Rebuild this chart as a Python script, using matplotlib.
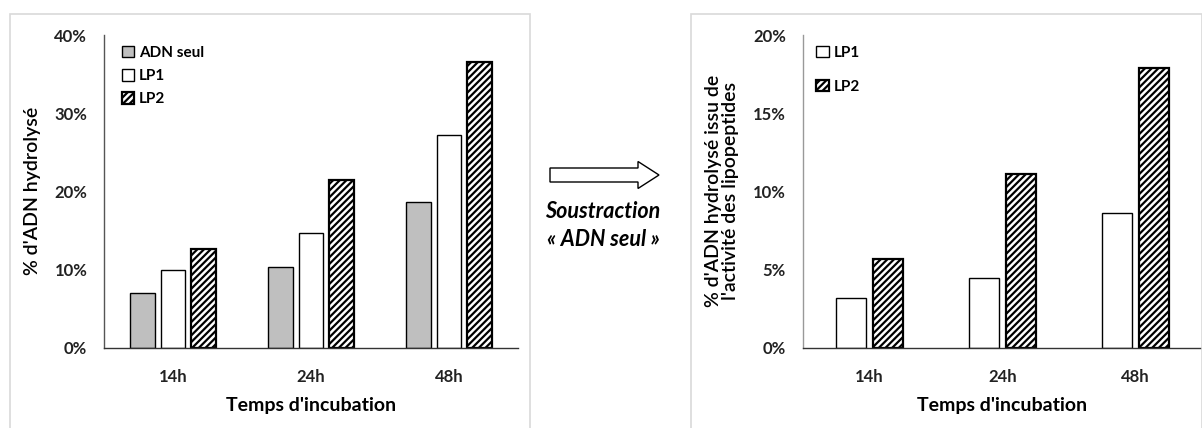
import matplotlib.pyplot as plt
from matplotlib.patches import FancyArrow, Rectangle
import numpy as np

plt.rcParams['font.family'] = ['Lato', 'DejaVu Sans']
plt.rcParams['hatch.linewidth'] = 1.6

temps = ['14h', '24h', '48h']
adn_seul = [7.0, 10.3, 18.6]
lp1 = [10.0, 14.7, 27.2]
lp2 = [12.6, 21.4, 36.5]

lp1_net = [3.2, 4.45, 8.6]
lp2_net = [5.7, 11.1, 17.9]

fig = plt.figure(figsize=(12.02, 4.28), dpi=100)

# grey frames around each chart, like the pasted Excel charts
for x0, x1 in [(10, 530), (691, 1202)]:
    fig.add_artist(Rectangle((x0 / 1202, -0.1), (x1 - x0) / 1202, 1.1 - 14 / 428,
                             transform=fig.transFigure, fill=False,
                             edgecolor='#d9d9d9', linewidth=1.2))


def style_axes(ax, ymax, step):
    ax.set_xlim(-0.5, 2.5)
    ax.set_ylim(0, ymax)
    ax.set_yticks(np.arange(0, ymax + 0.1, step))
    ax.set_yticklabels(['%d%%' % v for v in np.arange(0, ymax + 0.1, step)])
    ax.set_xticks(range(len(temps)))
    ax.set_xticklabels(temps)
    ax.tick_params(axis='x', length=0, labelsize=12, pad=15)
    ax.tick_params(axis='y', length=0, labelsize=12, pad=12)
    for lab in ax.get_xticklabels() + ax.get_yticklabels():
        lab.set_fontweight('bold')
        lab.set_color('#222222')
    ax.spines['top'].set_visible(False)
    ax.spines['right'].set_visible(False)
    ax.spines['left'].set_color('#555555')
    ax.spines['left'].set_linewidth(1.0)
    ax.spines['bottom'].set_color('#333333')
    ax.spines['bottom'].set_linewidth(1.0)
    ax.set_xlabel("Temps d'incubation", fontsize=14, fontweight='bold', labelpad=9)
    ax.patch.set_alpha(0)


x = np.arange(len(temps))

# left chart
ax1 = fig.add_axes([104 / 1202, 80.3 / 428, 414 / 1202, 312.7 / 428])
w, s = 0.18, 0.224
ax1.bar(x - s, adn_seul, w, color='#bfbfbf', edgecolor='black', linewidth=1.0, label='ADN seul')
ax1.bar(x, lp1, w, color='white', edgecolor='black', linewidth=1.0, label='LP1')
ax1.bar(x + s, lp2, w, color='white', edgecolor='black', linewidth=1.6, hatch='/////', label='LP2')
style_axes(ax1, 40, 10)
ax1.set_ylabel("% d'ADN hydrolysé", fontsize=14, fontweight='semibold', labelpad=10)
leg1 = ax1.legend(loc='upper left', frameon=False, fontsize=11, handlelength=0.8,
                  handleheight=0.8, handletextpad=0.3, labelspacing=0.6,
                  bbox_to_anchor=(0.01, 1.01))
for t in leg1.get_texts():
    t.set_fontweight('bold')

# right chart
ax2 = fig.add_axes([802.7 / 1202, 80.3 / 428, 399.3 / 1202, 312.7 / 428])
w2, s2 = 0.226, 0.28
ax2.bar(x - s2 / 2, lp1_net, w2, color='white', edgecolor='black', linewidth=1.0, label='LP1')
ax2.bar(x + s2 / 2, lp2_net, w2, color='white', edgecolor='black', linewidth=1.6, hatch='/////', label='LP2')
style_axes(ax2, 20, 5)
ax2.spines['left'].set_color('#999999')
ax2.set_ylabel("% d'ADN hydrolysé issu de\nl'activité des lipopeptides", fontsize=14,
               fontweight='semibold', labelpad=10, linespacing=1.05)
leg2 = ax2.legend(loc='upper left', frameon=False, fontsize=11, handlelength=0.8,
                  handleheight=0.8, handletextpad=0.3, labelspacing=1.3,
                  bbox_to_anchor=(0.0, 1.01))
for t in leg2.get_texts():
    t.set_fontweight('bold')

# arrow and caption in the middle
fig.add_artist(FancyArrow(550 / 1202, 253 / 428, 88 / 1202, 0, width=14 / 428,
                          head_width=27 / 428, head_length=21 / 1202,
                          length_includes_head=False, transform=fig.transFigure,
                          facecolor='white', edgecolor='black', linewidth=1.0))
fig.text(603 / 1202, 1 - 211 / 428, 'Soustraction', ha='center', va='center',
         fontsize=15.5, fontweight='bold', fontstyle='italic')
fig.text(603 / 1202, 1 - 239 / 428, '« ADN seul »', ha='center', va='center',
         fontsize=15.5, fontweight='bold', fontstyle='italic')

fig.savefig('out.png', dpi=100)
